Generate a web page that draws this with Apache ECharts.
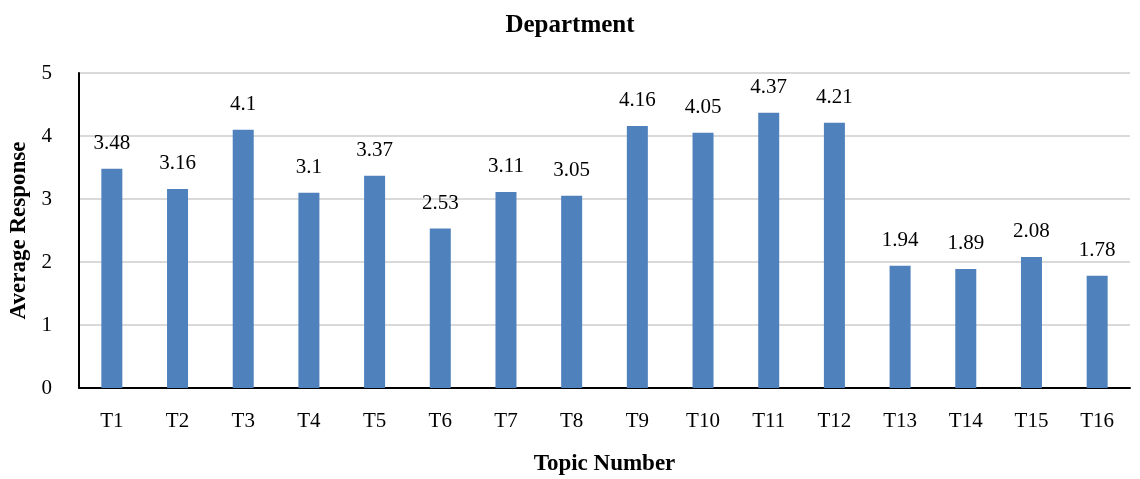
<!DOCTYPE html>
<html><head><meta charset="utf-8">
<script src="https://cdn.jsdelivr.net/npm/echarts@6/dist/echarts.min.js"></script>
<style>html,body{margin:0;padding:0;background:#fff}#c{width:1140px;height:479px}</style>
</head><body><div id="c"></div>
<script>
const categories = ["T1","T2","T3","T4","T5","T6","T7","T8","T9","T10","T11","T12","T13","T14","T15","T16"];
const values = [3.48,3.16,4.1,3.1,3.37,2.53,3.11,3.05,4.16,4.05,4.37,4.21,1.94,1.89,2.08,1.78];
const FONT = "Liberation Serif";
const chart = echarts.init(document.getElementById('c'));
chart.setOption({
  animation: false,
  title: {text: "Department", left: 'center', top: 8,
    textStyle: {fontFamily: FONT, fontWeight: 'bold', fontSize: 25, color: '#000'}},
  grid: {left: 79, right: 10, top: 73, bottom: 91, outerBoundsMode: 'none', containLabel: false},
  xAxis: {type: 'category', data: categories,
    name: "Topic Number", nameLocation: 'middle', nameGap: 65,
    nameTextStyle: {fontFamily: FONT, fontWeight: 'bold', fontSize: 23, color: '#000'},
    axisLine: {lineStyle: {color: '#000', width: 2}},
    axisTick: {show: false},
    axisLabel: {fontFamily: FONT, fontSize: 21, color: '#000', margin: 23}},
  yAxis: {type: 'value', min: 0, max: 5, interval: 1,
    name: "Average Response", nameLocation: 'middle', nameGap: 48,
    nameTextStyle: {fontFamily: FONT, fontWeight: 'bold', fontSize: 23, color: '#000'},
    axisLine: {show: true, lineStyle: {color: '#000', width: 2}},
    axisTick: {show: false},
    axisLabel: {fontFamily: FONT, fontSize: 21, color: '#000', margin: 27},
    splitLine: {lineStyle: {color: '#d9d9d9', width: 2}}},
  series: [{type: 'bar', data: values, barWidth: 21,
    itemStyle: {color: '#4f81bd'},
    label: {show: true, position: 'top', distance: 15, fontFamily: FONT, fontSize: 21, color: '#000'}}]
});
</script></body></html>
